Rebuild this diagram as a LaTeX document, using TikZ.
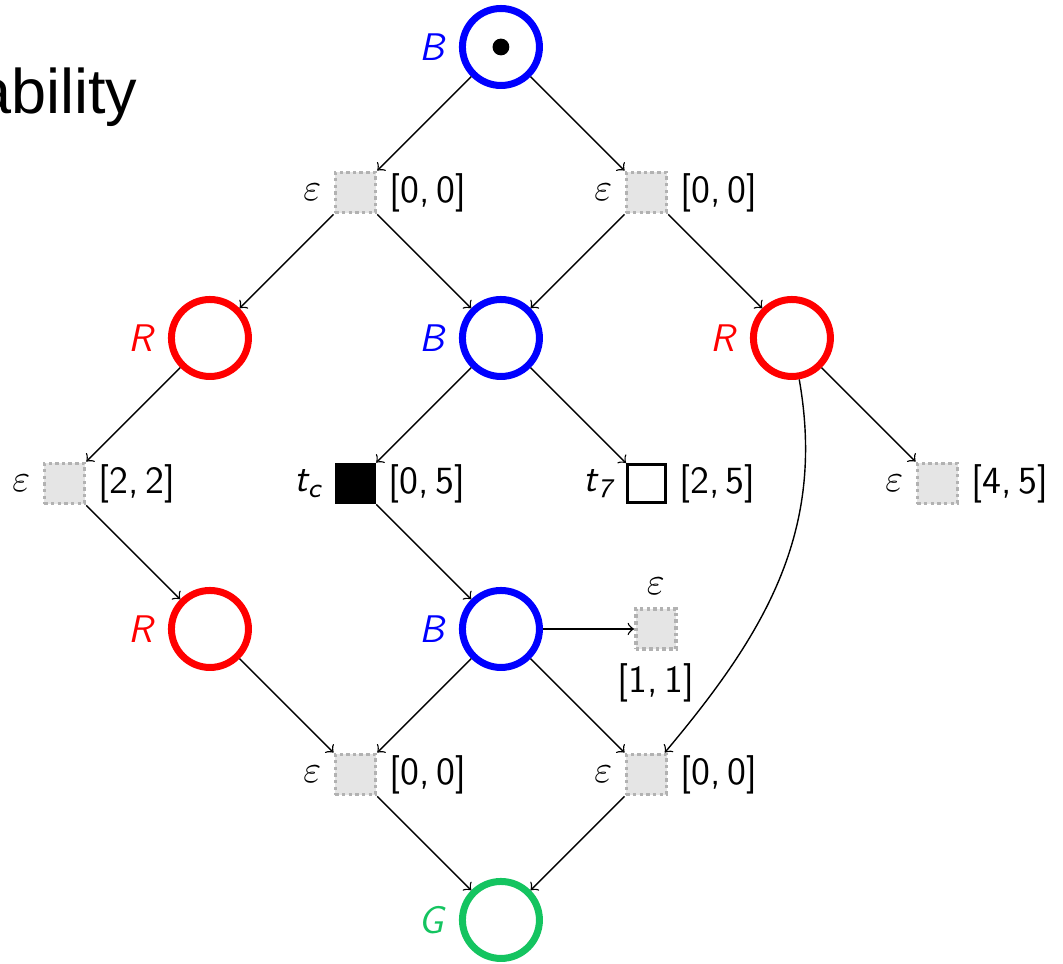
\documentclass[tikz,border=0pt]{standalone}
\usepackage{fontspec}
\newfontfamily\titlefont{Liberation Sans}
\definecolor{placegreen}{RGB}{20,196,96}
\newcommand{\sfit}[1]{\textsf{\slshape #1}}
\newcommand{\intv}[2]{\textsf{[#1,\,#2]}}
\begin{document}
\begin{tikzpicture}[x=41.57pt,y=41.57pt,>=to,
	every label/.style={font=\fontsize{11}{13}\selectfont},
	place/.style={circle,draw,line width=2pt,minimum size=22pt,inner sep=0},
	trans/.style={rectangle,draw=gray!60,line width=1pt,dash pattern=on 1pt off 0.9pt,
		fill=gray!20,minimum size=11.5pt,inner sep=0},
	tblack/.style={rectangle,draw,fill=black,minimum size=11.5pt,inner sep=0},
	twhite/.style={rectangle,draw,line width=0.9pt,fill=white,minimum size=10.8pt,inner sep=0}]
\useasboundingbox (-3.443,0.323) rectangle (3.863,-6.302);
\node[font=\titlefont\fontsize{18}{20}\selectfont,anchor=base east,inner sep=0] (title) at (-2.495,-0.454) {ability};
% places
\node[place,draw=blue,label={[text=blue]left:\sfit{B}}] (b0) at (0,0) {};
\fill (b0) circle (2.4pt);
\node[place,draw=red,label={[text=red]left:\sfit{R}}] (r1) at (-2,-2) {};
\node[place,draw=blue,label={[text=blue]left:\sfit{B}}] (b1) at (0,-2) {};
\node[place,draw=red,label={[text=red]left:\sfit{R}}] (r2) at (2,-2) {};
\node[place,draw=red,label={[text=red]left:\sfit{R}}] (r3) at (-2,-4) {};
\node[place,draw=blue,label={[text=blue]left:\sfit{B}}] (b2) at (0,-4) {};
\node[place,draw=placegreen,label={[text=placegreen]left:\sfit{G}}] (g) at (0,-6) {};
% transitions
\node[trans,label=left:$\varepsilon$,label=right:\intv{0}{0}] (e1) at (-1,-1) {};
\node[trans,label=left:$\varepsilon$,label=right:\intv{0}{0}] (e2) at (1,-1) {};
\node[trans,label=left:$\varepsilon$,label=right:\intv{2}{2}] (e3) at (-3,-3) {};
\node[tblack,label=left:\sfit{t\textsubscript{c}},label=right:\intv{0}{5}] (tc) at (-1,-3) {};
\node[twhite,label=left:\sfit{t\textsubscript{7}},label=right:\intv{2}{5}] (t7) at (1,-3) {};
\node[trans,label=left:$\varepsilon$,label=right:\intv{4}{5}] (e4) at (3,-3) {};
\node[trans,label=above:$\varepsilon$,label=below:\intv{1}{1}] (e5) at (1.065,-4) {};
\node[trans,label=left:$\varepsilon$,label=right:\intv{0}{0}] (e6) at (-1,-5) {};
\node[trans,label=left:$\varepsilon$,label=right:\intv{0}{0}] (e7) at (1,-5) {};
% arcs
\foreach \from/\to in {b0/e1,b0/e2,e1/r1,e1/b1,e2/b1,e2/r2,r1/e3,b1/tc,b1/t7,r2/e4,
	e3/r3,tc/b2,b2/e5,r3/e6,b2/e6,b2/e7,e6/g,e7/g}
	\draw[->] (\from) -- (\to);
\draw[->] (r2) to[out=-80,in=50] (e7);
\end{tikzpicture}
\end{document}
